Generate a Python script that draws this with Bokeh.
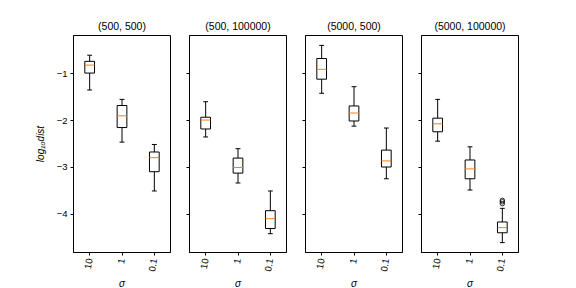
import math
from bokeh.plotting import figure
from bokeh.layouts import row
from bokeh.models import FixedTicker, Range1d, ColumnDataSource
from bokeh.embed import file_html
from bokeh.resources import INLINE

titles = ["(500, 500)", "(500, 100000)", "(5000, 500)", "(5000, 100000)"]
sigma_labels = ["10", "1", "0.1"]
positions = [1, 2, 3]
y_ticks = [-4, -3, -2, -1]

# box statistics per panel (log10 dist), one value per sigma
whislo = [[-1.35, -2.46, -3.50], [-2.35, -3.33, -4.41], [-1.42, -2.12, -3.24], [-2.44, -3.48, -4.60]]
q1 = [[-0.99, -2.15, -3.09], [-2.18, -3.12, -4.30], [-1.12, -2.01, -2.99], [-2.24, -3.24, -4.39]]
med = [[-0.82, -1.90, -2.79], [-1.99, -3.00, -4.09], [-0.91, -1.84, -2.86], [-2.07, -3.03, -4.28]]
q3 = [[-0.74, -1.68, -2.67], [-1.93, -2.80, -3.92], [-0.68, -1.69, -2.63], [-1.95, -2.84, -4.16]]
whishi = [[-0.61, -1.55, -2.51], [-1.60, -2.60, -3.50], [-0.40, -1.28, -2.16], [-1.55, -2.56, -3.87]]
fliers = [[[], [], []], [[], [], []], [[], [], []], [[], [], [-3.70, -3.73, -3.77]]]

FONT = "Liberation Sans"
BOX_W = 0.3
CAP_W = 0.15

y_range = Range1d(-4.81, -0.19)
figs = []
for i in range(4):
    first = i == 0
    p = figure(frame_width=97, frame_height=217,
               x_range=Range1d(0.5, 3.5), y_range=y_range,
               output_backend="svg", toolbar_location=None,
               min_border_left=73 if first else 14, min_border_right=5,
               min_border_top=35, min_border_bottom=0,
               title=titles[i])
    p.title.align = "center"
    p.title.text_font = FONT
    p.title.text_font_size = "10.5px"
    p.title.text_font_style = "normal"
    p.title.text_color = "black"
    p.title.standoff = 8

    src = ColumnDataSource(dict(
        x=positions,
        lo=whislo[i], q1=q1[i], med=med[i], q3=q3[i], hi=whishi[i],
        bl=[x - BOX_W / 2 for x in positions], br=[x + BOX_W / 2 for x in positions],
        cl=[x - CAP_W / 2 for x in positions], cr=[x + CAP_W / 2 for x in positions],
    ))
    p.segment(x0="x", y0="q3", x1="x", y1="hi", source=src, line_color="black", line_width=1)
    p.segment(x0="x", y0="q1", x1="x", y1="lo", source=src, line_color="black", line_width=1)
    p.segment(x0="cl", y0="hi", x1="cr", y1="hi", source=src, line_color="black", line_width=1)
    p.segment(x0="cl", y0="lo", x1="cr", y1="lo", source=src, line_color="black", line_width=1)
    p.quad(left="bl", right="br", bottom="q1", top="q3", source=src,
           fill_color=None, line_color="black", line_width=1)
    p.segment(x0="bl", y0="med", x1="br", y1="med", source=src, line_color="#ff7f0e", line_width=1)

    fx, fy = [], []
    for k, vals in enumerate(fliers[i]):
        for v in vals:
            fx.append(positions[k])
            fy.append(v)
    if fx:
        p.scatter(fx, fy, marker="circle", size=4.5, fill_color=None, line_color="black", line_width=0.8)

    p.grid.visible = False
    p.outline_line_color = "black"
    p.outline_line_alpha = 1
    p.outline_line_width = 1

    for ax in (p.xaxis[0], p.yaxis[0]):
        ax.axis_line_color = "black"
        ax.major_tick_line_color = "black"
        ax.major_tick_out = 3
        ax.major_tick_in = 0
        ax.minor_tick_out = 0
        ax.minor_tick_in = 0
        ax.major_label_text_font = FONT
        ax.major_label_text_font_size = "9.5px"
        ax.major_label_text_color = "black"
        ax.axis_label_text_font = FONT
        ax.axis_label_text_font_style = "italic"
        ax.axis_label_text_font_size = "10px"
        ax.axis_label_text_color = "black"

    p.xaxis.ticker = FixedTicker(ticks=positions)
    p.xaxis.major_label_overrides = {pos: lab for pos, lab in zip(positions, sigma_labels)}
    p.xaxis.major_label_orientation = math.radians(80)
    p.xaxis.major_label_standoff = 3
    p.xaxis.axis_label = "σ"
    p.xaxis.axis_label_standoff = 2

    p.yaxis.ticker = FixedTicker(ticks=y_ticks)
    if first:
        p.yaxis.axis_label = "log₁₀dist"
        p.yaxis.axis_label_standoff = 8
        p.yaxis.major_label_standoff = 3
    else:
        p.yaxis.major_label_overrides = {t: "" for t in y_ticks}
        p.yaxis.major_label_standoff = 0
    figs.append(p)

layout = row(*figs)
open("out.html", "w").write(file_html(layout, INLINE))
